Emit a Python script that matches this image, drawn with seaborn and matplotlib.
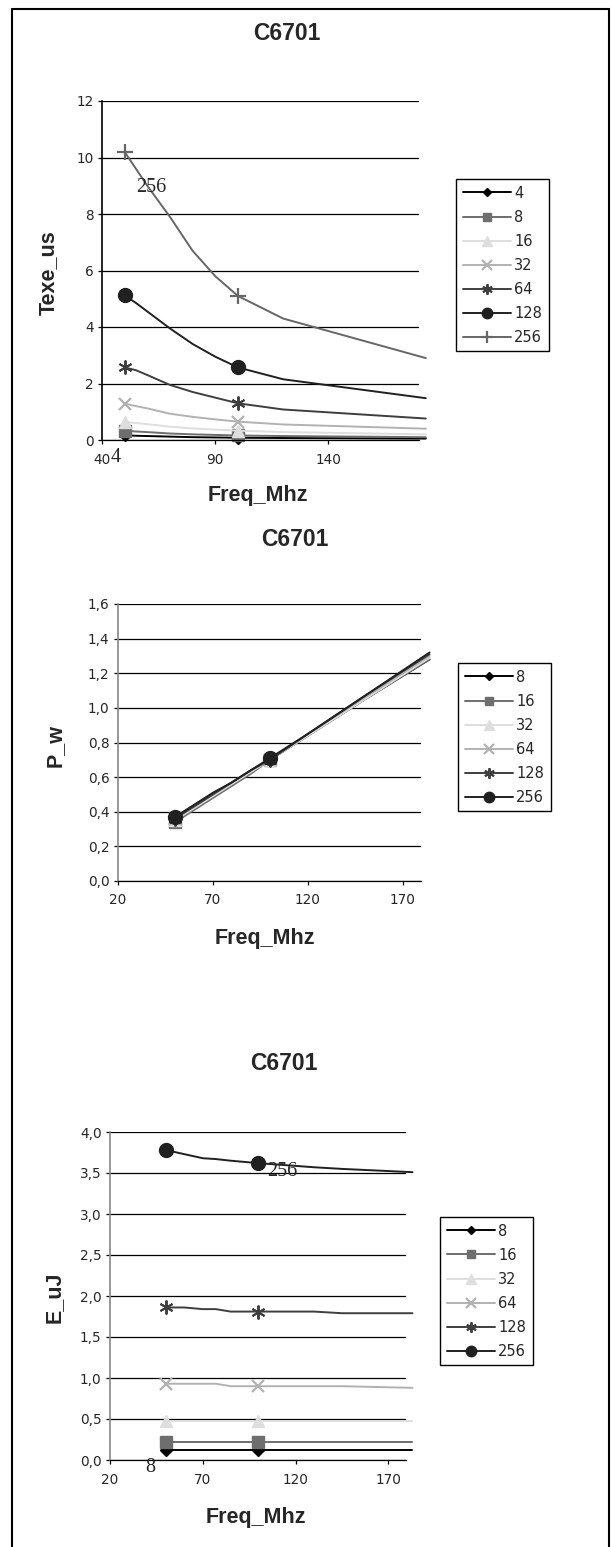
import matplotlib
matplotlib.use('Agg')
import matplotlib.pyplot as plt
import seaborn as sns
from matplotlib.lines import Line2D
from matplotlib.ticker import FuncFormatter

sns.set_style('white')
plt.rcParams['font.family'] = ['DejaVu Sans']

W, H = 612, 1547

# Texe_us vs Freq_Mhz (top chart)
texe_freq = [50, 55, 60, 70, 80, 90, 100, 120, 183]
texe_labels = ['4', '8', '16', '32', '64', '128', '256']
texe_4 = [0.17, 0.15, 0.14, 0.12, 0.10, 0.09, 0.08, 0.07, 0.05]
texe_8 = [0.33, 0.30, 0.28, 0.23, 0.20, 0.18, 0.16, 0.14, 0.10]
texe_16 = [0.64, 0.60, 0.56, 0.47, 0.41, 0.37, 0.33, 0.28, 0.20]
texe_32 = [1.29, 1.20, 1.12, 0.93, 0.82, 0.73, 0.65, 0.55, 0.40]
texe_64 = [2.57, 2.47, 2.30, 1.95, 1.70, 1.50, 1.30, 1.08, 0.76]
texe_128 = [5.12, 4.85, 4.55, 3.95, 3.40, 2.95, 2.57, 2.15, 1.48]
texe_256 = [10.2, 9.6, 9.0, 7.9, 6.7, 5.8, 5.1, 4.3, 2.9]
texe_yticks = [0, 2, 4, 6, 8, 10, 12]
texe_xticks = [40, 90, 140]

# P_w vs Freq_Mhz (middle chart)
pw_freq = [50, 60, 70, 80, 90, 100, 120, 150, 184]
pw_labels = ['8', '16', '32', '64', '128', '256']
pw_8 = [0.35, 0.42, 0.49, 0.56, 0.63, 0.70, 0.84, 1.05, 1.28]
pw_16 = [0.34, 0.41, 0.48, 0.55, 0.62, 0.70, 0.84, 1.05, 1.28]
pw_32 = [0.35, 0.42, 0.49, 0.56, 0.63, 0.70, 0.84, 1.05, 1.29]
pw_64 = [0.36, 0.43, 0.50, 0.57, 0.64, 0.70, 0.85, 1.06, 1.30]
pw_128 = [0.36, 0.43, 0.50, 0.57, 0.64, 0.70, 0.85, 1.07, 1.31]
pw_256 = [0.37, 0.44, 0.51, 0.57, 0.64, 0.71, 0.85, 1.07, 1.32]
pw_yticks = [0.0, 0.2, 0.4, 0.6, 0.8, 1.0, 1.2, 1.4, 1.6]
pw_xticks = [20, 70, 120, 170]

# E_uJ vs Freq_Mhz (bottom chart)
e_freq = [50, 60, 70, 77, 85, 100, 130, 145, 183]
e_labels = ['8', '16', '32', '64', '128', '256']
e_8 = [0.12, 0.12, 0.12, 0.12, 0.12, 0.12, 0.12, 0.12, 0.12]
e_16 = [0.22, 0.22, 0.22, 0.22, 0.22, 0.22, 0.22, 0.22, 0.22]
e_32 = [0.47, 0.47, 0.47, 0.47, 0.47, 0.47, 0.47, 0.47, 0.47]
e_64 = [0.93, 0.93, 0.93, 0.93, 0.90, 0.90, 0.90, 0.90, 0.88]
e_128 = [1.86, 1.86, 1.84, 1.84, 1.81, 1.81, 1.81, 1.79, 1.79]
e_256 = [3.78, 3.73, 3.68, 3.67, 3.65, 3.62, 3.57, 3.55, 3.51]
e_yticks = [0.0, 0.5, 1.0, 1.5, 2.0, 2.5, 3.0, 3.5, 4.0]
e_xticks = [20, 70, 120, 170]

# markers only on these frequencies
marked_freq = [50, 100]

# Excel-like grey styles, in series order
styles = [
    dict(color='#000000', marker='D', ms=6, mew=1.0),
    dict(color='#6e6e6e', marker='s', ms=8, mew=1.0),
    dict(color='#dedede', marker='^', ms=9, mew=1.0),
    dict(color='#b2b2b2', marker='x', ms=9, mew=1.6),
    dict(color='#3e3e3e', marker=(6, 2, 0), ms=10, mew=1.4),
    dict(color='#202020', marker='o', ms=10, mew=1.0),
    dict(color='#666666', marker='+', ms=12, mew=1.6),
]
# middle/bottom charts: 256 is the black circle
styles_b = styles[:6]


def fx(px):
    return px / W


def fy(py):
    return 1 - py / H


def draw_chart(rect, freq, series, labels, stl, xlim, ylim, xticks, yticks,
               fmt, spine_col, leg_xy):
    ax = fig.add_axes(rect)
    idx = [i for i, f in enumerate(freq) if f in marked_freq]
    handles = []
    for vals, lab, s in zip(series, labels, stl):
        sns.lineplot(x=freq, y=vals, ax=ax, color=s['color'], lw=1.4,
                     marker=s['marker'], markersize=s['ms'], markevery=idx,
                     markeredgewidth=s['mew'], markeredgecolor=s['color'],
                     markerfacecolor=s['color'], errorbar=None,
                     clip_on=False, legend=False)
        handles.append(Line2D([0], [0], color=s['color'], lw=1.4,
                              marker=s['marker'], markersize=s['ms'] * 0.75,
                              markeredgewidth=s['mew'],
                              markeredgecolor=s['color'],
                              markerfacecolor=s['color']))
    ax.set_xlim(*xlim)
    ax.set_ylim(*ylim)
    ax.set_xticks(xticks)
    ax.set_yticks(yticks)
    ax.yaxis.set_major_formatter(FuncFormatter(fmt))
    ax.yaxis.grid(True, color='black', lw=0.9)
    ax.xaxis.grid(False)
    ax.set_axisbelow(True)
    for sp in ['top', 'right']:
        ax.spines[sp].set_visible(False)
    ax.spines['left'].set_color(spine_col)
    ax.spines['left'].set_linewidth(1.2)
    ax.spines['bottom'].set_color('black')
    ax.spines['bottom'].set_linewidth(0.9)
    ax.tick_params(axis='y', direction='out', length=3, width=0.9,
                   color='black', pad=3, labelsize=9.8, left=True)
    ax.tick_params(axis='x', direction='out', length=3, width=0.9,
                   color='black', pad=6, labelsize=9.8, bottom=True)
    ax.set_xlabel('')
    ax.set_ylabel('')
    leg = ax.legend(handles, labels, loc='upper left',
                    bbox_to_anchor=(fx(leg_xy[0]), fy(leg_xy[1])),
                    bbox_transform=fig.transFigure, frameon=True,
                    fancybox=False, framealpha=1, edgecolor='black',
                    fontsize=10.5, handlelength=3.3, handletextpad=0.25,
                    labelspacing=0.62, borderpad=0.45, borderaxespad=0,
                    numpoints=1)
    leg.get_frame().set_linewidth(1.0)
    return ax


fig = plt.figure(figsize=(W / 100, H / 100), dpi=100)

comma = lambda v, p: ('%.1f' % v).replace('.', ',')
plain = lambda v, p: '%d' % v

draw_chart([fx(102), fy(440), fx(419 - 102), (440 - 101) / H],
           texe_freq, [texe_4, texe_8, texe_16, texe_32, texe_64, texe_128, texe_256],
           texe_labels, styles, (40, 180), (0, 12), texe_xticks, texe_yticks,
           plain, 'black', (456, 179))

draw_chart([fx(118), fy(881), fx(421 - 118), (881 - 604) / H],
           pw_freq, [pw_8, pw_16, pw_32, pw_64, pw_128, pw_256],
           pw_labels, styles_b, (20, 179.5), (0, 1.6), pw_xticks, pw_yticks,
           comma, '#888888', (458, 663))

draw_chart([fx(110), fy(1460), fx(406 - 110), (1460 - 1132) / H],
           e_freq, [e_8, e_16, e_32, e_64, e_128, e_256],
           e_labels, styles_b, (20, 179.5), (0, 4.0), e_xticks, e_yticks,
           comma, '#888888', (440, 1217))

# titles and axis names
bold = dict(family=['Liberation Sans', 'DejaVu Sans'], weight='bold',
            ha='center', va='center')
fig.text(fx(287), fy(33), 'C6701', fontsize=16.5, **bold)
fig.text(fx(295), fy(539), 'C6701', fontsize=16.5, **bold)
fig.text(fx(284), fy(1063), 'C6701', fontsize=16.5, **bold)
fig.text(fx(48), fy(273), 'Texe_us', fontsize=15.5, rotation=90, **bold)
fig.text(fx(55), fy(745), 'P_w', fontsize=15.5, rotation=90, **bold)
fig.text(fx(54), fy(1297), 'E_uJ', fontsize=15.5, rotation=90, **bold)
fig.text(fx(258), fy(496), 'Freq_Mhz', fontsize=15.5, **bold)
fig.text(fx(265), fy(939), 'Freq_Mhz', fontsize=15.5, **bold)
fig.text(fx(256), fy(1517), 'Freq_Mhz', fontsize=15.5, **bold)

# stray Excel data labels
serif = dict(family=['Liberation Serif', 'DejaVu Serif'], ha='center',
             va='center', fontsize=14.5)
fig.text(fx(151), fy(187), '256', **serif)
fig.text(fx(116), fy(457), '4', **serif)
fig.text(fx(282), fy(1172), '256', **serif)
fig.text(fx(150), fy(1468), '8', **serif)

# outer frame
for xs, ys in [([11.5, 11.5], [8.5, H + 5]), ([609, 609], [8.5, H + 5]),
               ([11.5, 609], [8.5, 8.5])]:
    fig.add_artist(Line2D([fx(v) for v in xs], [fy(v) for v in ys],
                          color='black', lw=1.5, transform=fig.transFigure))

fig.savefig('out.png', dpi=100)
